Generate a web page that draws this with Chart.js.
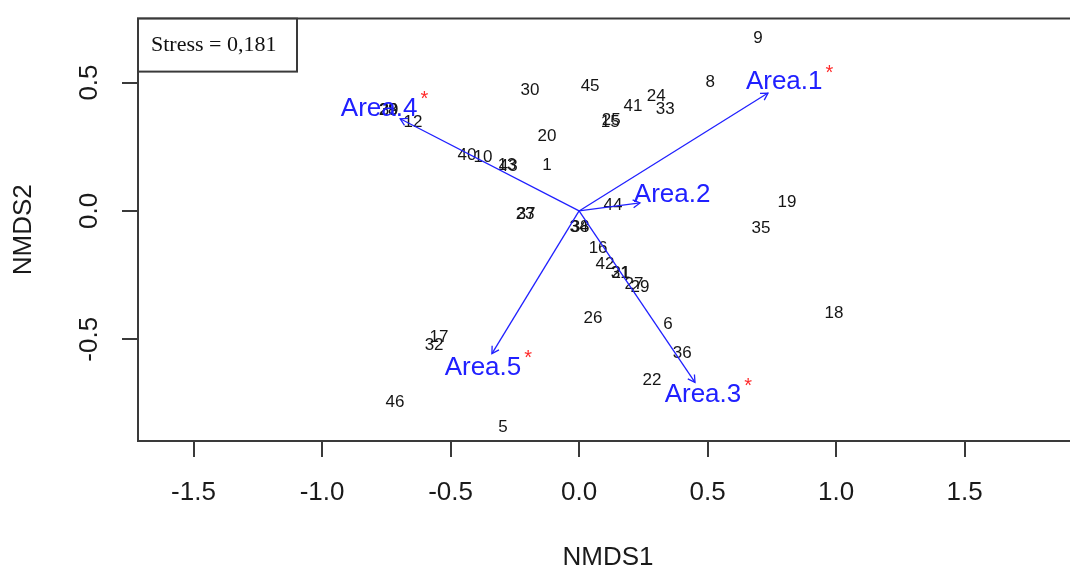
<!DOCTYPE html>
<html>
<head>
<meta charset="utf-8">
<script src="https://cdn.jsdelivr.net/npm/chart.js@4.4.1/dist/chart.umd.min.js"></script>
<style>
  body { margin: 0; background: #fff; }
  canvas { display: block; }
</style>
</head>
<body>
<canvas id="nmds" width="1070" height="570"></canvas>
<script>
// site scores (NMDS1, NMDS2)
var siteNames = ['9', '8', '30', '45', '41', '24', '33', '25', '15', '20', '1', '40', '10', '13', '43', '44', '19',
  '23', '37', '38', '34', '16', '42', '31', '21', '27', '29', '26', '6', '17', '32', '36', '22', '46', '5', '35', '18',
  '28', '39', '12'];
var siteX = [0.696, 0.510, -0.191, 0.043, 0.210, 0.300, 0.335, 0.125, 0.121, -0.125, -0.125, -0.436, -0.374, -0.280, -0.276, 0.132, 0.809,
  -0.210, -0.206, 0.004, 0.000, 0.074, 0.101, 0.160, 0.163, 0.214, 0.237, 0.054, 0.346, -0.545, -0.564, 0.401, 0.284, -0.716, -0.296, 0.708, 0.992,
  -0.743, -0.739, -0.646];
var siteY = [0.672, 0.502, 0.471, 0.486, 0.409, 0.448, 0.394, 0.351, 0.347, 0.290, 0.178, 0.216, 0.208, 0.178, 0.174, 0.023, 0.035,
  -0.012, -0.012, -0.062, -0.062, -0.147, -0.208, -0.243, -0.243, -0.286, -0.297, -0.417, -0.440, -0.494, -0.525, -0.556, -0.660, -0.745, -0.842, -0.066, -0.398,
  0.390, 0.390, 0.344];

// fitted vectors (envfit)
var areaNames = ['Area.1', 'Area.2', 'Area.3', 'Area.4', 'Area.5'];
var areaX = [0.735, 0.237, 0.451, -0.696, -0.339];
var areaY = [0.459, 0.031, -0.668, 0.359, -0.556];
var areaLabX = [0.798, 0.362, 0.482, -0.778, -0.374];
var areaLabY = [0.502, 0.062, -0.718, 0.398, -0.610];
var areaSig = [true, false, true, true, true];

var xTicks = [-1.5, -1.0, -0.5, 0.0, 0.5, 1.0, 1.5];
var yTicks = [-0.5, 0.0, 0.5];
var stressText = 'Stress = 0,181';

var blue = '#2020ff';
var frame = '#3a3a3a';

var datasets = [{
  label: 'sites',
  data: siteX.map(function(x, i) { return {x: x, y: siteY[i]}; }),
  pointRadius: 0,
  showLine: false
}];
areaNames.forEach(function(n, i) {
  datasets.push({
    label: n,
    data: [{x: 0, y: 0}, {x: areaX[i], y: areaY[i]}],
    showLine: true,
    borderColor: blue,
    borderWidth: 1.3,
    pointRadius: 0,
    fill: false
  });
});

var ordiPlugin = {
  id: 'ordi',
  beforeDatasetsDraw: function(chart) {
    var ctx = chart.ctx, xs = chart.scales.x, ys = chart.scales.y;
    ctx.save();
    ctx.font = '17px "Liberation Sans", Arial, sans-serif';
    ctx.fillStyle = '#151515';
    ctx.textAlign = 'center';
    ctx.textBaseline = 'middle';
    for (var i = 0; i < siteNames.length; i++) {
      ctx.fillText(siteNames[i], xs.getPixelForValue(siteX[i]), ys.getPixelForValue(siteY[i]));
    }
    ctx.restore();
  },
  afterDatasetsDraw: function(chart) {
    var ctx = chart.ctx, xs = chart.scales.x, ys = chart.scales.y, a = chart.chartArea;
    ctx.save();
    // arrow heads
    ctx.strokeStyle = blue;
    ctx.lineWidth = 1.3;
    var x0 = xs.getPixelForValue(0), y0 = ys.getPixelForValue(0);
    for (var i = 0; i < areaNames.length; i++) {
      var tx = xs.getPixelForValue(areaX[i]), ty = ys.getPixelForValue(areaY[i]);
      var ang = Math.atan2(ty - y0, tx - x0);
      var len = 8;
      ctx.beginPath();
      ctx.moveTo(tx - len * Math.cos(ang - Math.PI / 6), ty - len * Math.sin(ang - Math.PI / 6));
      ctx.lineTo(tx, ty);
      ctx.lineTo(tx - len * Math.cos(ang + Math.PI / 6), ty - len * Math.sin(ang + Math.PI / 6));
      ctx.stroke();
    }
    // vector labels + significance stars
    ctx.textAlign = 'center';
    ctx.textBaseline = 'middle';
    for (i = 0; i < areaNames.length; i++) {
      var lx = xs.getPixelForValue(areaLabX[i]), ly = ys.getPixelForValue(areaLabY[i]);
      ctx.font = '26px "Liberation Sans", Arial, sans-serif';
      ctx.fillStyle = blue;
      ctx.fillText(areaNames[i], lx, ly);
      if (areaSig[i]) {
        var w = ctx.measureText(areaNames[i]).width;
        ctx.font = '20px "Liberation Sans", Arial, sans-serif';
        ctx.fillStyle = '#ff2a2a';
        ctx.fillText('*', lx + w / 2 + 7, ly - 9);
      }
    }

    // box
    ctx.strokeStyle = frame;
    ctx.lineWidth = 2;
    ctx.beginPath();
    ctx.moveTo(a.right + 5, a.top);
    ctx.lineTo(a.left, a.top);
    ctx.lineTo(a.left, a.bottom);
    ctx.lineTo(a.right + 5, a.bottom);
    ctx.stroke();

    // stress box
    ctx.fillStyle = '#fff';
    ctx.fillRect(a.left, a.top, 159, 53);
    ctx.strokeRect(a.left, a.top, 159, 53);
    ctx.fillStyle = '#111';
    ctx.font = '22px "Liberation Serif", "Times New Roman", serif';
    ctx.textAlign = 'left';
    ctx.fillText(stressText, a.left + 13, a.top + 27);

    // y tick labels, rotated like R
    ctx.font = '26px "Liberation Sans", Arial, sans-serif';
    ctx.fillStyle = '#1a1a1a';
    ctx.textAlign = 'center';
    yTicks.forEach(function(v) {
      ctx.save();
      ctx.translate(a.left - 48, ys.getPixelForValue(v));
      ctx.rotate(-Math.PI / 2);
      ctx.fillText(v.toFixed(1), 0, 0);
      ctx.restore();
    });

    // axis titles
    ctx.fillText('NMDS1', (a.left + a.right) / 2 + 4, 558);
    ctx.save();
    ctx.translate(24, (a.top + a.bottom) / 2);
    ctx.rotate(-Math.PI / 2);
    ctx.fillText('NMDS2', 0, 0);
    ctx.restore();
    ctx.restore();
  }
};

Chart.defaults.font.family = '"Liberation Sans", Arial, sans-serif';

var chart = new Chart(document.getElementById('nmds'), {
  type: 'scatter',
  data: { datasets: datasets },
  options: {
    responsive: false,
    animation: false,
    layout: { padding: { top: 15, right: 0, left: 0, bottom: 0 } },
    plugins: { legend: { display: false }, tooltip: { enabled: false } },
    scales: {
      x: {
        type: 'linear',
        min: -1.716,
        max: 1.910,
        afterBuildTicks: function(s) { s.ticks = xTicks.map(function(v) { return {value: v}; }); },
        afterFit: function(s) { s.height = 129; },
        border: { display: false },
        grid: { drawOnChartArea: false, drawTicks: true, tickLength: 16, color: frame, lineWidth: 2 },
        ticks: {
          padding: 20,
          color: '#1a1a1a',
          font: { size: 26 },
          maxRotation: 0,
          callback: function(v) { return v.toFixed(1); }
        }
      },
      y: {
        type: 'linear',
        min: -0.896,
        max: 0.749,
        afterBuildTicks: function(s) { s.ticks = yTicks.map(function(v) { return {value: v}; }); },
        afterFit: function(s) { s.width = 138; },
        border: { display: false },
        grid: { drawOnChartArea: false, drawTicks: true, tickLength: 16, color: frame, lineWidth: 2 },
        ticks: { color: 'rgba(0,0,0,0)', font: { size: 26 } }
      }
    }
  },
  plugins: [ordiPlugin]
});
</script>
</body>
</html>
